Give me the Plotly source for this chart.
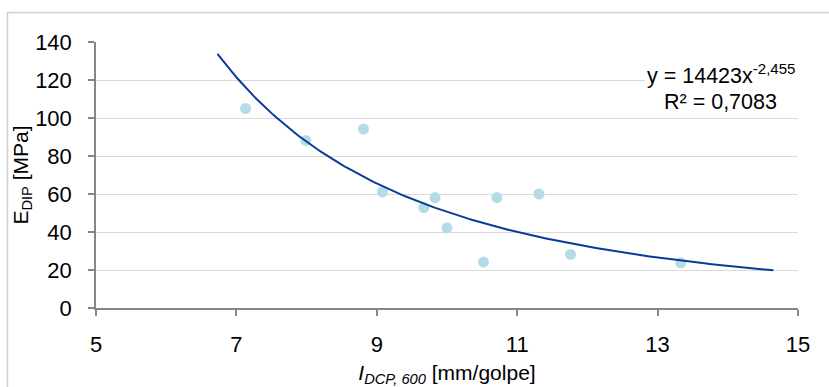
import numpy as np
import plotly.graph_objects as go

# Measured data points
x_vals = [7.13, 7.99, 8.81, 9.08, 9.67, 9.83, 10.0, 10.52, 10.71, 11.31, 11.76, 13.33]
y_vals = [105.0, 88.2, 94.2, 61.1, 52.8, 58.1, 42.2, 24.2, 58.1, 60.0, 28.2, 23.8]

# Power trendline as shown in the chart: y = 14423 x^-2.455
trend_coef = 14423
trend_exp = -2.455
trend_x_range = [6.73, 14.65]

x_ticks = [5, 7, 9, 11, 13, 15]
y_ticks = [0, 20, 40, 60, 80, 100, 120, 140]

eq_text = "y = 14423x<sup>-2,455</sup>"
r2_text = "R² = 0,7083"

FONT = "Liberation Sans, Arial, sans-serif"

tx = np.linspace(trend_x_range[0], trend_x_range[1], 200)
ty = trend_coef * tx ** trend_exp

fig = go.Figure()
fig.add_trace(go.Scatter(
    x=x_vals, y=y_vals, mode="markers",
    marker=dict(size=11, color="#b4dce7", line=dict(width=0)),
    showlegend=False, hoverinfo="skip",
))
fig.add_trace(go.Scatter(
    x=tx, y=ty, mode="lines",
    line=dict(color="#0a3a9a", width=2),
    showlegend=False, hoverinfo="skip",
))

W, H = 829, 387
L, R, T, B = 96, 31, 42, 79
pw, ph = W - L - R, H - T - B

def px_to_paper_x(px):
    return (px - L) / pw

def px_to_paper_y(py):
    return 1 - (py - T) / ph

# outer chart-area border
fig.add_shape(type="rect", xref="paper", yref="paper",
              x0=px_to_paper_x(7.5), x1=px_to_paper_x(840),
              y0=px_to_paper_y(400), y1=px_to_paper_y(12.5),
              line=dict(color="#cfcfcf", width=1.5), fillcolor="rgba(0,0,0,0)",
              layer="above")

# white box behind equation label
fig.add_shape(type="rect", xref="x", yref="y",
              x0=12.82, x1=15.0, y0=103.5, y1=136.0,
              line=dict(width=0), fillcolor="white", layer="above")

fig.add_annotation(x=13.9, y=123.4, xref="x", yref="y", text=eq_text,
                   showarrow=False, font=dict(family=FONT, size=21.5, color="black"),
                   xanchor="center", yanchor="middle")
fig.add_annotation(x=13.9, y=108.6, xref="x", yref="y", text=r2_text,
                   showarrow=False, font=dict(family=FONT, size=21.5, color="black"),
                   xanchor="center", yanchor="middle")

fig.update_layout(
    width=W, height=H,
    margin=dict(l=L, r=R, t=T, b=B, autoexpand=False),
    paper_bgcolor="white", plot_bgcolor="white",
    font=dict(family=FONT, size=21, color="black"),
)
fig.update_xaxes(
    range=[5, 15], tickmode="array", tickvals=x_ticks, ticktext=[str(v) for v in x_ticks],
    showgrid=False, zeroline=False, automargin=False,
    showline=True, linecolor="#868686", linewidth=1.5,
    ticks="outside", ticklen=6, tickcolor="#868686", tickwidth=1.5,
    ticklabelstandoff=10,
    tickfont=dict(family=FONT, size=22, color="black"),
    title=dict(text="<i>I</i><sub><i>DCP, 600</i></sub> [mm/golpe]",
               font=dict(family=FONT, size=21, color="black"), standoff=13),
)
fig.update_yaxes(
    range=[0, 140], tickmode="array", tickvals=y_ticks, ticktext=[str(v) for v in y_ticks],
    showgrid=True, gridcolor="#d9d9d9", gridwidth=1.2, zeroline=False, automargin=False,
    showline=True, linecolor="#868686", linewidth=1.5,
    ticks="outside", ticklen=6, tickcolor="#868686", tickwidth=1.5,
    ticklabelstandoff=12,
    tickfont=dict(family=FONT, size=22, color="black"),
    title=dict(text="E<sub>DIP</sub> [MPa]",
               font=dict(family=FONT, size=21, color="black"), standoff=0),
)

fig.write_html("out.html", config={"displayModeBar": False},
               post_script="document.body.style.margin='0';document.body.style.overflow='hidden';")
